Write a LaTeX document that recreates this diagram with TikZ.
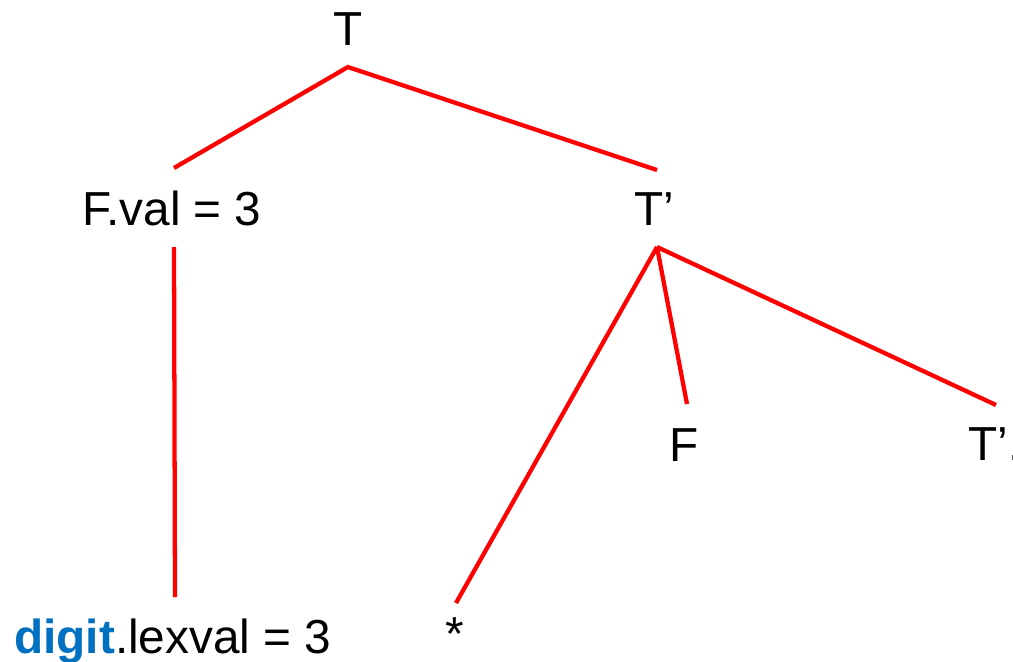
\documentclass[tikz,border=0pt]{standalone}
\usepackage{fontspec}
\setmainfont{Liberation Sans}
\definecolor{digitblue}{HTML}{0070C0}
\begin{document}
\begin{tikzpicture}[x=0.75pt,y=-0.75pt,
  lbl/.style={anchor=base,inner sep=0pt,font=\fontsize{35.8}{42}\selectfont},
  edge/.style={red,line width=3.2pt}]
\useasboundingbox (0,0) rectangle (1013,661);
\clip (0,0) rectangle (1013,661);
% nodes
\node[lbl] (T) at (348,45) {T};
\node[lbl] (Fval) at (172,225) {F.val = 3};
\node[lbl] (Tp) at (654,225) {T’};
\node[lbl] (F) at (684,461) {F};
\node[lbl,anchor=base west] (Tp2) at (968,460) {T’.inh};
\node[lbl,anchor=base west] (digit) at (14,653) {\textcolor{digitblue}{\textbf{digit}}.lexval = 3};
\node[lbl] (star) at (455,650) {*};
% attachment points
\coordinate (Tb) at (348,67);
\coordinate (Fvt) at (174,168);
\coordinate (Tpt) at (657,170);
\coordinate (Fvb) at (174,247);
\coordinate (Tpb) at (657,247);
\coordinate (dt) at (175,597);
\coordinate (st) at (456,603);
\coordinate (Ft) at (687,404);
\coordinate (Tp2t) at (996,405);
% connectors
\draw[edge] (Fvt) -- (Tb) -- (Tpt);
\draw[edge] (Fvb) -- (dt);
\draw[edge] (Tpb) -- (st);
\draw[edge] (Tpb) -- (Ft);
\draw[edge] (Tpb) -- (Tp2t);
\end{tikzpicture}
\end{document}
